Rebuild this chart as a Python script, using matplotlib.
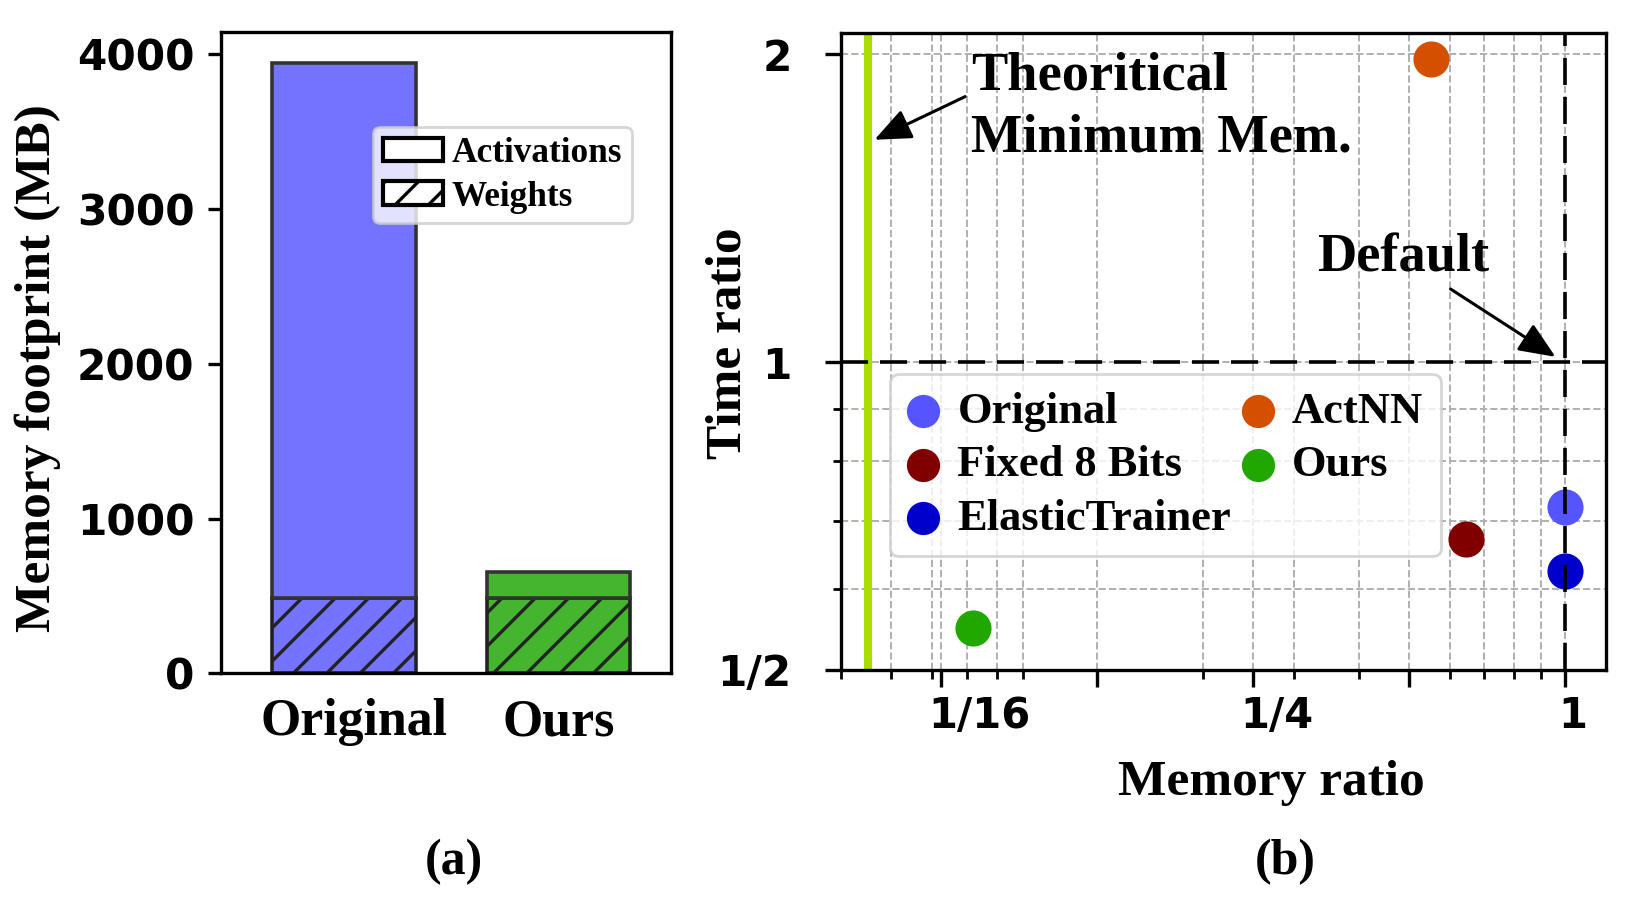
import matplotlib
matplotlib.use("Agg")
import matplotlib.pyplot as plt
from matplotlib.patches import Patch
from matplotlib.ticker import NullFormatter
from matplotlib.transforms import ScaledTranslation


# =========================
# 数据
# =========================

# (a) 内存占用 (MB)
bar_names = ["Original", "Ours"]
weights_mb = [485, 485]
activations_mb = [3460, 170]
bar_colors = ["#7373FF", "#45B52F"]

# (b) 内存比例 / 时间比例
methods = ["Original", "Fixed 8 Bits", "ElasticTrainer", "ActNN", "Ours"]
memory_ratio = [1.0, 0.644, 1.0, 0.551, 0.072]
time_ratio = [0.721, 0.672, 0.625, 1.978, 0.549]
method_colors = ["#5555FF", "#800000", "#0000CC", "#D45000", "#20A800"]

theoretical_min_mem = 0.0452

x_ticks = [1 / 16, 1 / 8, 1 / 4, 1 / 2, 1]
x_tick_labels = ["1/16", "", "1/4", "", "1"]
y_ticks = [0.5, 1, 2]
y_tick_labels = ["1/2", "1", "2"]


# =========================
# 样式
# =========================

plt.rcParams["font.family"] = ["DejaVu Sans"]
plt.rcParams["font.weight"] = "bold"
plt.rcParams["axes.labelweight"] = "bold"
plt.rcParams["hatch.linewidth"] = 1.2
plt.rcParams["axes.linewidth"] = 1.2

SERIF = "Liberation Serif"

fig = plt.figure(figsize=(8.135, 4.485), dpi=200)


def shift_label(label, dx_px):
    # 按像素平移刻度标签
    label.set_transform(label.get_transform()
                        + ScaledTranslation(dx_px / 200, 0, fig.dpi_scale_trans))


# =========================
# (a) 柱状图
# =========================

ax1 = fig.add_axes([0.1361, 0.2494, 0.2761, 0.7146])

x = range(len(bar_names))
bar_width = 0.671

ax1.bar(x, weights_mb, bar_width, color=bar_colors, edgecolor="#222222",
        hatch="//", linewidth=1.3)
ax1.bar(x, activations_mb, bar_width, bottom=weights_mb, color=bar_colors,
        edgecolor="#333333", linewidth=1.3)

ax1.set_xlim(-0.573, 1.524)
ax1.set_xticks(list(x), bar_names, fontfamily=SERIF, fontsize=18.7)
ax1.tick_params(axis="x", length=0, pad=9)
ax1.tick_params(axis="y", length=4.7, width=1.2, labelsize=15.2, pad=5)
shift_label(ax1.get_xticklabels()[0], 10)

ax1.set_ylabel("Memory footprint (MB)", fontfamily=SERIF, fontsize=18.5)
ax1.yaxis.set_label_coords(-0.357, 0.476)

legend_handles = [
    Patch(facecolor="white", edgecolor="black", linewidth=1.5, label="Activations"),
    Patch(facecolor="white", edgecolor="black", linewidth=1.5, hatch="//", label="Weights"),
]
leg1 = ax1.legend(handles=legend_handles, loc="upper left",
                  bbox_to_anchor=(0.338, 0.852), borderaxespad=0,
                  prop={"family": SERIF, "weight": "bold", "size": 12.7},
                  handlelength=1.7, handleheight=0.65, handletextpad=0.25,
                  labelspacing=0.3, borderpad=0.28, framealpha=0.8,
                  edgecolor="#cccccc")
leg1.get_frame().set_linewidth(1.0)


# =========================
# (b) 散点图
# =========================

ax2 = fig.add_axes([0.5167, 0.2531, 0.4702, 0.7105])
ax2.set_xscale("log")
ax2.set_yscale("log")

for name, mx, ty, c in zip(methods, memory_ratio, time_ratio, method_colors):
    ax2.scatter(mx, ty, s=169, color=c, label=name, zorder=2, linewidths=0)

ax2.axvline(theoretical_min_mem, color="#AADD00", linewidth=2.9, zorder=2.5)
ax2.axhline(1, color="black", linestyle=(0, (7.5, 3.3)), linewidth=1.3, zorder=3)
ax2.axvline(1, color="black", linestyle=(0, (7.5, 3.3)), linewidth=1.3, zorder=3)

ax2.set_xlim(0.04, 1.2)
ax2.set_ylim(0.5, 2.1)

ax2.set_xticks(x_ticks, x_tick_labels)
ax2.set_yticks(y_ticks, y_tick_labels)
ax2.xaxis.set_minor_formatter(NullFormatter())
ax2.yaxis.set_minor_formatter(NullFormatter())

ax2.tick_params(axis="x", which="major", length=6, width=1.2, labelsize=15, pad=3)
ax2.tick_params(axis="x", which="minor", length=3.2, width=1.0)
ax2.tick_params(axis="y", which="major", length=5.6, width=1.2, labelsize=15.2, pad=12)
ax2.tick_params(axis="y", which="minor", length=3, width=1.0)

# 刻度标签略向右偏移
for label, dx in zip(ax2.get_xticklabels(), [38.7, 0, 24.2, 0, 8.2]):
    shift_label(label, dx)

ax2.grid(True, which="both", linestyle="--", color="#b0b0b0", linewidth=0.7)
ax2.set_axisbelow(True)

ax2.set_xlabel("Memory ratio", fontfamily=SERIF, fontsize=18.5)
ax2.xaxis.set_label_coords(0.5625, -0.142)
ax2.set_ylabel("Time ratio", fontfamily=SERIF, fontsize=18.5)
ax2.yaxis.set_label_coords(-0.116, 0.512)

arrow_style = dict(arrowstyle="-|>,head_length=0.4,head_width=0.17",
                   color="black", linewidth=1.1, mutation_scale=28,
                   shrinkA=0, shrinkB=0)

ax2.annotate("Theoritical\nMinimum Mem.", xy=(0.0465, 1.65),
             xytext=(0.0713, 1.775), ha="left", va="center",
             fontfamily=SERIF, fontsize=19.6, fontweight="bold",
             linespacing=1.3, arrowprops=dict(arrow_style, relpos=(0, 0.62)))
ax2.annotate("Default", xy=(0.96, 1.012), xytext=(0.488, 1.263),
             ha="center", va="center", fontfamily=SERIF, fontsize=19.6,
             fontweight="bold", arrowprops=arrow_style)

leg2 = ax2.legend(loc="upper left", bbox_to_anchor=(0.0643, 0.4645),
                  borderaxespad=0, ncol=2,
                  prop={"family": SERIF, "weight": "bold", "size": 16},
                  markerscale=0.92, handlelength=0.7, handletextpad=0.42,
                  columnspacing=0.25, labelspacing=0.3, borderpad=0.4,
                  framealpha=0.8, edgecolor="#cccccc", scatterpoints=1)
leg2.get_frame().set_linewidth(1.0)


# =========================
# 子图标题
# =========================

fig.text(0.2789, 0.039, "(a)", ha="center", va="center",
         fontfamily=SERIF, fontsize=18, fontweight="bold")
fig.text(0.790, 0.039, "(b)", ha="center", va="center",
         fontfamily=SERIF, fontsize=18, fontweight="bold")

fig.savefig("out.png", dpi=200)
